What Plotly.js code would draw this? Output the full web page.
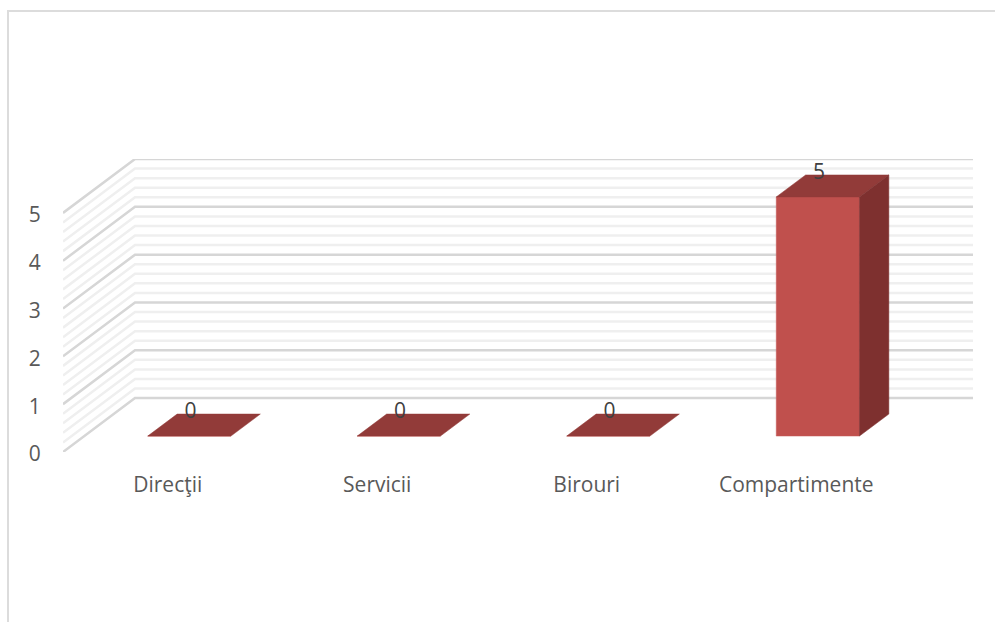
<!DOCTYPE html>
<html>
<head>
<meta charset="utf-8">
<script src="https://cdn.plot.ly/plotly-3.0.1.min.js"></script>
<style>
html,body{margin:0;padding:0;width:995px;height:622px;overflow:hidden;background:#fff}
#frame{position:absolute;left:7px;top:10px;width:1000px;height:640px;border:2px solid #dcdcdc}
#chart{position:absolute;left:0;top:0;width:995px;height:622px}
</style>
</head>
<body>
<div id="frame"></div>
<div id="chart"></div>
<script>
const categories = ["Direcţii", "Servicii", "Birouri", "Compartimente"];
const values = [0, 0, 0, 5];
const yTicks = [0, 1, 2, 3, 4, 5];
const minorStep = 0.2;

// Oblique projection, in axis units
const DX = 72 / 209.5, DY = 54 / 47.9;
const FRONT = 0.296, BACK = 0.704, BAR_W = 0.4;
const X_MIN = -0.5, X_MAX = 3.5, Y_MAX = 5;
const LEFT_NUDGE = 0.6 / 209.5;

const px = (c, d) => c + d * DX;
const py = (v, d) => v + d * DY;

function wallLine(v, major) {
  return {
    type: 'path', layer: 'below', xref: 'x', yref: 'y',
    path: `M${px(X_MIN,0)},${py(v,0)} L${px(X_MIN,1)},${py(v,1)} L${px(X_MAX,1)},${py(v,1)}`,
    line: {color: major ? '#d6d6d6' : '#efefef', width: 2.5}
  };
}
const shapes = [];
const steps = Math.round(Y_MAX / minorStep);
for (let i = 0; i <= steps; i++) { if (i % 5) shapes.push(wallLine(i * minorStep, false)); }
yTicks.forEach(v => shapes.push(wallLine(v, true)));

function face(cs, vs, ds, color) {
  return {type: 'scatter', mode: 'lines', x: cs.map((c, i) => px(c, ds[i])), y: vs.map((v, i) => py(v, ds[i])),
    fill: 'toself', fillcolor: color, line: {color: color, width: 0.5}, hoverinfo: 'skip', showlegend: false};
}
const traces = [];
traces.push({
  type: 'bar', x: categories.map((_, i) => px(i, FRONT) + LEFT_NUDGE / 2), y: values, base: values.map(() => py(0, FRONT)),
  width: BAR_W - LEFT_NUDGE, marker: {color: '#c0504d', line: {color: '#c65b58', width: 0.5}}, hoverinfo: 'skip', showlegend: false
});
values.forEach((v, i) => {
  const l = i - BAR_W / 2 + LEFT_NUDGE, r = i + BAR_W / 2;
  traces.push(face([l, r, r, l, l], [v, v, v, v, v], [FRONT, FRONT, BACK, BACK, FRONT], '#923b39'));
  if (v > 0) traces.push(face([r, r, r, r, r], [0, v, v, 0, 0], [FRONT, FRONT, BACK, BACK, FRONT], '#7e302f'));
});
traces.push({
  type: 'scatter', mode: 'text', x: categories.map((_, i) => px(i, FRONT) + 1.5 / 209.5),
  y: values.map(v => py(v, FRONT) + 23 / 47.9), text: values.map(String),
  textposition: 'middle center', textfont: {family: 'Open Sans, sans-serif', size: 21, color: '#404040'},
  hoverinfo: 'skip', showlegend: false, cliponaxis: false
});

const layout = {
  width: 995, height: 622,
  margin: {l: 63, r: 22, t: 159, b: 170, pad: 0},
  paper_bgcolor: 'rgba(0,0,0,0)', plot_bgcolor: 'rgba(0,0,0,0)',
  font: {family: 'Open Sans, sans-serif', size: 21, color: '#595959'},
  bargap: 0, showlegend: false, shapes: shapes,
  xaxis: {range: [X_MIN, px(X_MAX, 1)], tickmode: 'array', tickvals: categories.map((_, i) => i), ticktext: categories,
    showgrid: false, zeroline: false, showline: false, ticks: 'outside', ticklen: 14, tickcolor: 'rgba(0,0,0,0)', tickangle: 0},
  yaxis: {range: [0, py(Y_MAX, 1)], tickmode: 'array', tickvals: yTicks, ticktext: yTicks.map(String), ticklabelshift: 2,
    showgrid: false, zeroline: false, showline: false, ticks: 'outside', ticklen: 17, tickcolor: 'rgba(0,0,0,0)'}
};
Plotly.newPlot('chart', traces, layout, {displayModeBar: false, staticPlot: true});
</script>
</body>
</html>
